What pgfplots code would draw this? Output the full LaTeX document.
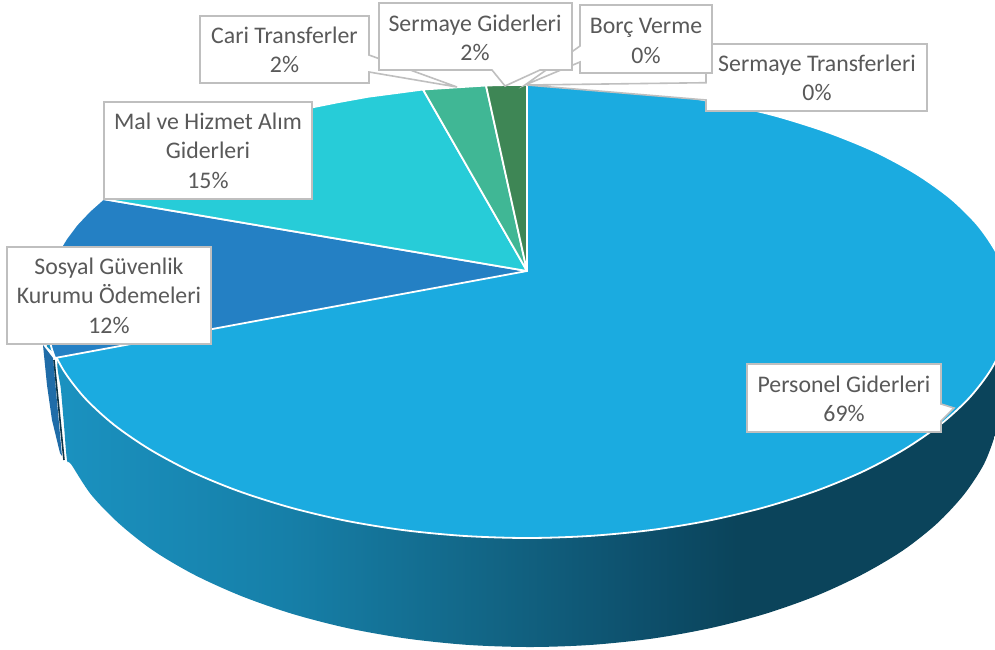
\documentclass[border=0pt]{standalone}
\usepackage{fontspec}
\setmainfont{Carlito}
\usepackage{pgfplots}
\pgfplotsset{compat=1.18}
\definecolor{cP}{HTML}{1BABE0}
\definecolor{cS}{HTML}{2480C4}
\definecolor{cM}{HTML}{27CCD8}
\definecolor{cC}{HTML}{40B795}
\definecolor{cG}{HTML}{3E8655}
\definecolor{cSl}{HTML}{1F6CA8}
\definecolor{cNavy}{HTML}{0B3448}
\definecolor{txt}{HTML}{595959}
\definecolor{bx}{HTML}{BFBFBF}
\definecolor{w1}{HTML}{1B95C4}
\definecolor{w2}{HTML}{167FA8}
\definecolor{w3}{HTML}{126585}
\definecolor{w4}{HTML}{0D4F6B}
\definecolor{w5}{HTML}{0B445B}
\pgfdeclarehorizontalshading{wall}{100bp}{color(0bp)=(w1);color(25bp)=(w1);color(37.8bp)=(w2);color(47.3bp)=(w3);color(54.7bp)=(w4);color(59bp)=(w5);color(75bp)=(w5);color(100bp)=(w5)}
\tikzset{lab/.style={text=txt,align=center,inner sep=0pt,font=\fontsize{23.8}{29.5}\selectfont},
 call/.style={fill=white,draw=bx,line width=1.6pt,line join=miter,no markers},
 sl/.style={draw=white,line width=1.8pt,line join=round,no markers}}
\begin{document}
\begin{tikzpicture}
\begin{axis}[hide axis,scale only axis,width=995pt,height=649pt,xmin=0,xmax=995,ymin=0,ymax=649,y dir=reverse,clip=true]
% side sliver of the Sosyal slice
\addplot[fill=cSl,draw=none,no markers] coordinates {(43,345)(47,385)(52,420)(60,453)(62,456)(53,358)} --cycle;
\addplot[draw=cNavy,line width=1.6pt,no markers] coordinates {(54,360)(64,460)};
% wall
\addplot[shade,shading=wall,draw=none,no markers,smooth] coordinates {(500,300)(80,335)(58,358)(61,390)(64,425)(67,460)(71,464)(91,494.5)(119,523.5)(153,550.4)(194,574.6)(241,595.9)(292.5,613.9)(348,628.2)(407,638.6)(468,644.9)(530,647)(591,644.9)(652,638.6)(710,628.2)(765,613.9)(816,595.9)(862,574.6)(903,550.4)(937,523.5)(964,494.5)(984,464)(996,432.4)(1005,400)(1005,300)(500,300)};
% top face
\addplot[fill=cP,sl,smooth] coordinates {(338,102.2)(399,92.7)(462.4,87)(527,85)(591.6,87)(655,92.7)(716,102.2)(773.7,115.3)(826.8,131.9)(874.5,151.3)(915.9,173.6)(950.5,198.2)(977.5,224.8)(996.6,252.9)(1007.4,281.9)(1010,311.5)(1004.3,341.1)(990.6,370.1)(969,398.2)(940,424.8)(904.2,449.4)(862.5,471.7)(815.4,491.1)(763,507.7)(707.7,520.8)(649,530.3)(588.7,536)(527,538)(465.3,536)(405,530.3)(346.3,520.8)(291,507.7)(238.6,491.1)(191.5,471.7)(149.8,449.4)(114,424.8)(85,398.2)(63.4,370.1)(49.7,341.1)(44,311.5)(46.6,281.9)(57.4,252.9)(76.5,224.8)(103,199)(138.1,173.6)(179.5,151.3)(227.2,131.9)(280.3,115.3)(338,102.2)};
\addplot[fill=cS,sl] coordinates {(527,271)(55,358)(52,349.4)(49.7,341.1)(46.1,326.4)(44,311.5)(44.6,296.7)(46.6,281.9)(51.2,267.1)(57.4,252.9)(66.3,238.5)(76.5,224.8)(89.2,211.3)(103,199)} --cycle;
\addplot[fill=cM,sl] coordinates {(527,271)(103,199)(120,185.8)(138.1,173.6)(158.4,161.8)(179.5,151.3)(203,140.9)(227.2,131.9)(253.5,122.8)(280.3,115.3)(309,108)(338,102.2)(368.4,96.7)(399,92.7)(423,89.5)} --cycle;
\addplot[fill=cC,sl] coordinates {(527,271)(423,89.5)(462.4,87)(486,85.5)} --cycle;
\addplot[fill=cG,sl] coordinates {(527,271)(486,85.5)(506,85)(527,85)} --cycle;
% callouts
\addplot[call] coordinates {(706,44)(927,44)(927,111)(706,111)(706,100)(527,85)(706,82.7)} --cycle;
\addplot[call] coordinates {(580,5)(712,5)(712,73)(580,73)(580,62)(525,85)(580,46)} --cycle;
\addplot[call] coordinates {(200,16)(369,16)(369,55)(457,87)(369,72)(369,83)(200,83)} --cycle;
\addplot[call] coordinates {(379,3)(572,3)(572,70)(540,70)(505,86)(492,70)(379,70)} --cycle;
\addplot[call] coordinates {(104,102)(312,102)(312,199)(104,199)} --cycle;
\addplot[call] coordinates {(7,247)(211,247)(211,344)(7,344)} --cycle;
\addplot[call] coordinates {(747,364)(941,364)(941,404)(954,408)(941,421)(941,432)(747,432)} --cycle;
% labels
\node[lab] at (axis cs:109,295.5) {Sosyal Güvenlik\\Kurumu Ödemeleri\\12\%};
\node[lab] at (axis cs:208,150.5) {Mal ve Hizmet Alım\\Giderleri\\15\%};
\node[lab] at (axis cs:284.5,50) {Cari Transferler\\2\%};
\node[lab] at (axis cs:475,38) {Sermaye Giderleri\\2\%};
\node[lab] at (axis cs:646,41) {Borç Verme\\0\%};
\node[lab] at (axis cs:817,78) {Sermaye Transferleri\\0\%};
\node[lab] at (axis cs:844,399) {Personel Giderleri\\69\%};
\end{axis}
\path (0,0) rectangle (995pt,649pt);
\end{tikzpicture}
\end{document}
